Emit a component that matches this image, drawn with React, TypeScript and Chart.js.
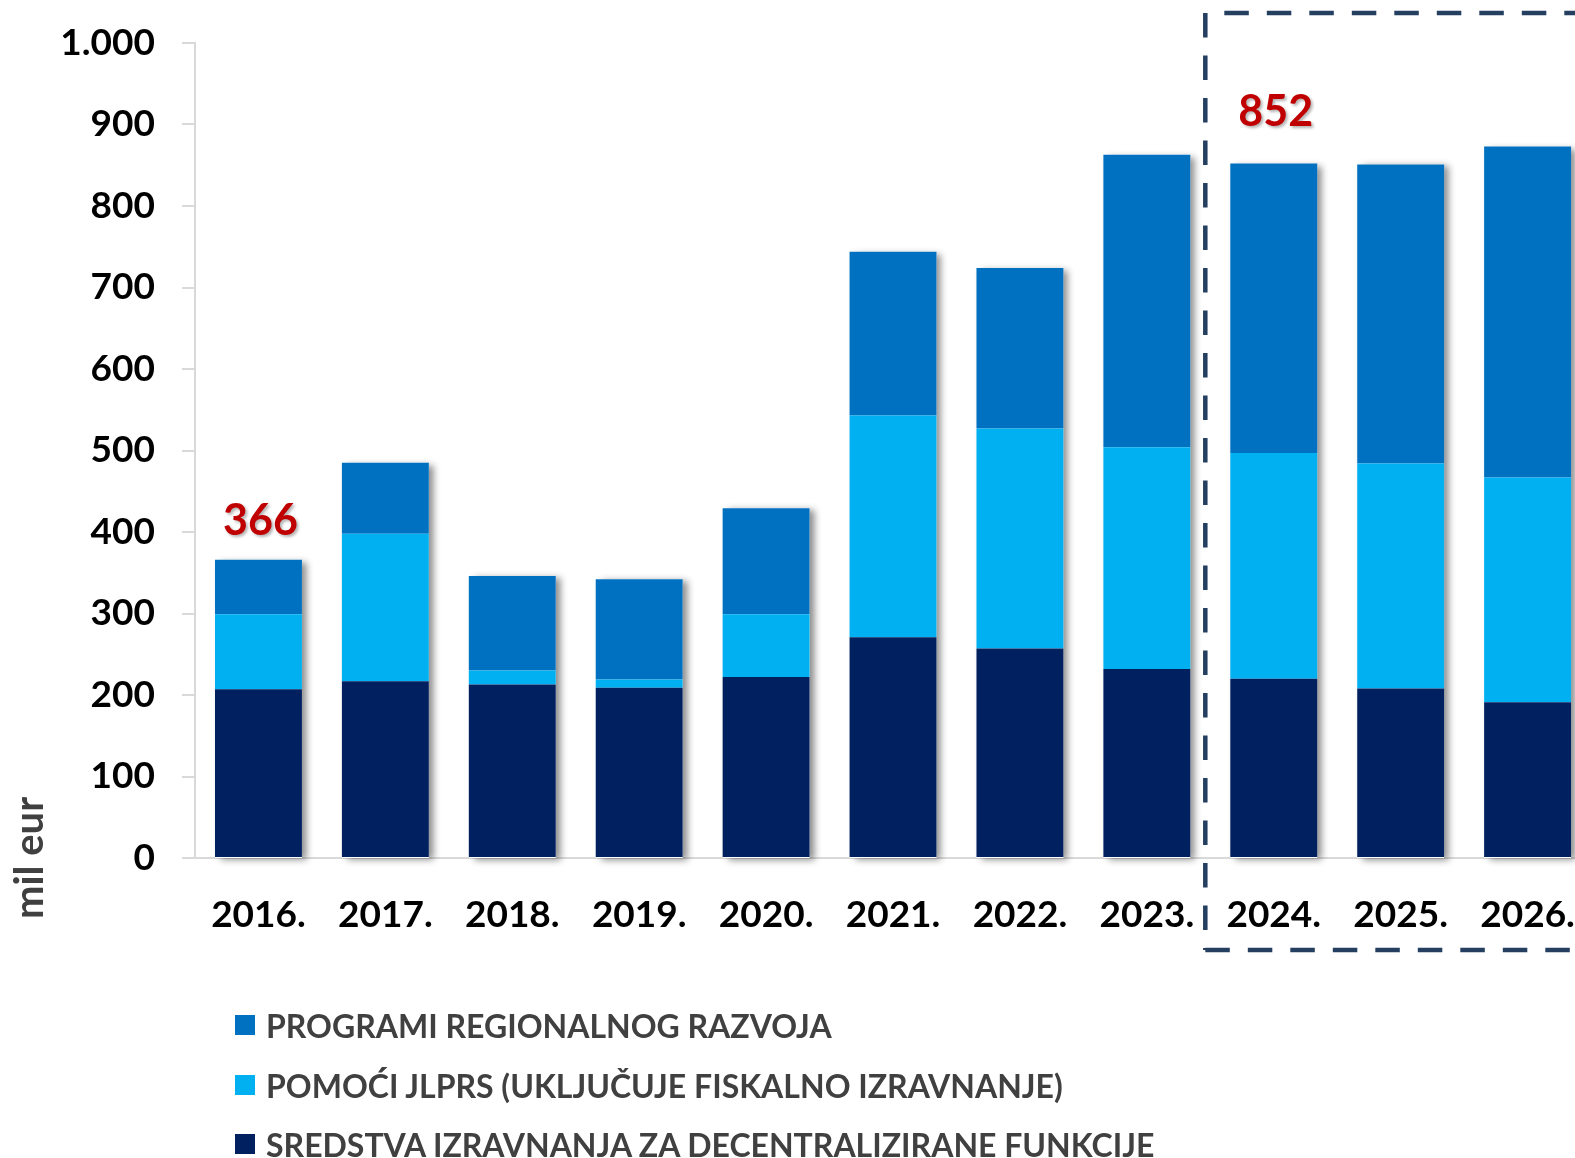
import React, { useEffect, useRef } from "react";
import { Chart, registerables } from "chart.js";

Chart.register(...registerables);

const categories = ["2016.", "2017.", "2018.", "2019.", "2020.", "2021.", "2022.", "2023.", "2024.", "2025.", "2026."];
const sredstva = [207, 217, 213, 209, 222, 271, 257, 232, 220, 208, 191];
const pomoci = [92, 181, 17, 10, 77, 272, 270, 272, 277, 276, 276];
const programi = [67, 87, 116, 123, 130, 201, 197, 359, 355, 367, 406];
const yTicks = [0, 100, 200, 300, 400, 500, 600, 700, 800, 900, 1000];
const highlightedTotals = [0, 8];

const seriesNames = {
  programi: "PROGRAMI REGIONALNOG RAZVOJA",
  pomoci: "POMOĆI JLPRS (UKLJUČUJE FISKALNO IZRAVNANJE)",
  sredstva: "SREDSTVA IZRAVNANJA ZA DECENTRALIZIRANE FUNKCIJE",
};
const colors = { programi: "#0070C0", pomoci: "#00B0F0", sredstva: "#002060" };

const FONT = "Lato, 'Open Sans', sans-serif";

const fmt = (v: number) => String(v).replace(/\B(?=(\d{3})+(?!\d))/g, ".");

export default function App() {
  const ref = useRef<HTMLCanvasElement | null>(null);

  useEffect(() => {
    if (!ref.current) return;

    const shadowPlugin = {
      id: "stackShadow",
      beforeDatasetsDraw(chart: any) {
        const ctx = chart.ctx;
        const top = chart.getDatasetMeta(2).data;
        const y0 = chart.scales.y.getPixelForValue(0);
        ctx.save();
        ctx.shadowColor = "rgba(0,0,0,0.45)";
        ctx.shadowBlur = 7;
        ctx.shadowOffsetX = 5;
        ctx.shadowOffsetY = 2;
        ctx.fillStyle = "#ffffff";
        top.forEach((el: any) => {
          const w = el.width;
          ctx.fillRect(el.x - w / 2, el.y, w, y0 - el.y);
        });
        ctx.restore();
      },
    };

    const extrasPlugin = {
      id: "extras",
      afterDraw(chart: any) {
        const ctx = chart.ctx;
        const xs = chart.scales.x;
        const ys = chart.scales.y;
        const offsets: Record<number, number> = { 0: 39, 8: 51 };
        ctx.save();
        ctx.font = `700 43px ${FONT}`;
        ctx.fillStyle = "#C00000";
        ctx.textAlign = "center";
        ctx.textBaseline = "middle";
        ctx.shadowColor = "rgba(0,0,0,0.3)";
        ctx.shadowBlur = 3;
        ctx.shadowOffsetX = 2;
        ctx.shadowOffsetY = 2;
        highlightedTotals.forEach((i) => {
          const total = sredstva[i] + pomoci[i] + programi[i];
          const x = xs.getPixelForValue(i) + 2;
          const y = ys.getPixelForValue(total) - (offsets[i] ?? 40);
          ctx.fillText(String(total), x, y);
        });
        ctx.restore();

        const x0 = (xs.getPixelForValue(7) + xs.getPixelForValue(8)) / 2 - 5;
        const W = chart.width + 20;
        const yTop = 13;
        const yBot = 950;
        ctx.save();
        ctx.strokeStyle = "#243F60";
        ctx.lineWidth = 4.5;
        ctx.setLineDash([24.5, 18]);
        ctx.beginPath();
        ctx.moveTo(x0, yTop);
        ctx.lineTo(x0, yBot);
        ctx.stroke();
        ctx.beginPath();
        ctx.moveTo(x0 + 19, yTop);
        ctx.lineTo(W, yTop);
        ctx.stroke();
        ctx.beginPath();
        ctx.moveTo(x0, yBot);
        ctx.lineTo(W, yBot);
        ctx.stroke();
        ctx.restore();

        ctx.save();
        ctx.translate(30, 858);
        ctx.rotate(-Math.PI / 2);
        ctx.font = `700 40px ${FONT}`;
        ctx.fillStyle = "#404040";
        ctx.textAlign = "center";
        ctx.textBaseline = "middle";
        ctx.fillText("mil eur", 0, 0);
        ctx.restore();
      },
    };

    const chart = new Chart(ref.current, {
      type: "bar",
      data: {
        labels: categories,
        datasets: [
          { label: seriesNames.sredstva, data: sredstva, backgroundColor: colors.sredstva },
          { label: seriesNames.pomoci, data: pomoci, backgroundColor: colors.pomoci },
          { label: seriesNames.programi, data: programi, backgroundColor: colors.programi },
        ],
      },
      options: {
        responsive: false,
        animation: false,
        devicePixelRatio: 1,
        layout: { padding: { top: 43, right: 2, bottom: 0, left: 0 } },
        datasets: { bar: { categoryPercentage: 1, barPercentage: 0.685 } },
        plugins: { legend: { display: false }, tooltip: { enabled: false } },
        scales: {
          x: {
            stacked: true,
            grid: { display: false, drawTicks: false },
            border: { display: true, color: "#d9d9d9", width: 2 },
            ticks: { color: "#000", font: { family: FONT, size: 37, weight: "700" }, padding: 35, maxRotation: 0, autoSkip: false },
            afterFit: (s: any) => { s.height = 300; },
          },
          y: {
            stacked: true,
            min: 0,
            max: 1000,
            afterBuildTicks: (s: any) => { s.ticks = yTicks.map((v) => ({ value: v })); },
            grid: { drawOnChartArea: false, drawTicks: true, tickLength: 13, color: "#d9d9d9", lineWidth: 2 },
            border: { display: true, color: "#d9d9d9", width: 2 },
            ticks: { color: "#000", font: { family: FONT, size: 37, weight: "700", lineHeight: 0.8 }, padding: 27, callback: (v: any) => fmt(Number(v)) },
            afterFit: (s: any) => { s.width = 195; },
          },
        },
      },
      plugins: [shadowPlugin, extrasPlugin],
    });
    return () => chart.destroy();
  }, []);

  const legendRows = [
    { name: seriesNames.programi, color: colors.programi, y: 1025 },
    { name: seriesNames.pomoci, color: colors.pomoci, y: 1085 },
    { name: seriesNames.sredstva, color: colors.sredstva, y: 1144 },
  ];

  return (
    <div style={{ position: "fixed", left: 0, top: 0, width: 1575, height: 1158, overflow: "hidden", background: "#fff" }}>
      <canvas ref={ref} width={1610} height={1158} style={{ position: "absolute", left: 0, top: 0, width: 1610, height: 1158 }} />
      {legendRows.map((r) => (
        <div
          key={r.name}
          style={{
            position: "absolute",
            left: 235,
            top: r.y - 22,
            height: 44,
            display: "flex",
            alignItems: "center",
            whiteSpace: "nowrap",
            fontFamily: FONT,
            fontWeight: 700,
            fontSize: 32,
            color: "#404040",
          }}
        >
          <span style={{ display: "inline-block", width: 20, height: 20, background: r.color, marginRight: 11 }} />
          <span>{r.name}</span>
        </div>
      ))}
    </div>
  );
}
